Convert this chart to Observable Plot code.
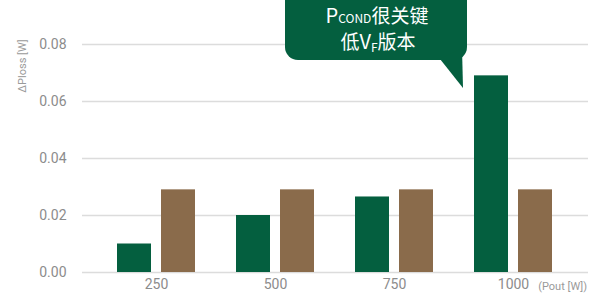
<!DOCTYPE html>
<html>
<head>
<meta charset="utf-8">
<script src="https://cdn.jsdelivr.net/npm/d3@7"></script>
<script src="https://cdn.jsdelivr.net/npm/@observablehq/plot@0.6"></script>
<style>
  html, body { margin: 0; padding: 0; background: #fff; }
  #chart svg { display: block; }
</style>
</head>
<body>
<div id="chart"></div>
<script>
// Data
const groups = ["250", "500", "750", "1000"];
const lowVfValues = [0.010, 0.020, 0.0265, 0.069];
const standardValues = [0.029, 0.029, 0.029, 0.029];
const yTicks = [0, 0.02, 0.04, 0.06, 0.08];
const yLabel = "ΔPloss [W]";
const xUnitLabel = "(Pout [W])";

const green = "#045f3f";
const brown = "#8a6b4b";
const grid = "#dcdcdc";
const tickColor = "#8c8c8c";

const data = groups.map((g, i) => ({group: g, lowVf: lowVfValues[i], standard: standardValues[i]}));

const W = 596, H = 293;
const plot = Plot.plot({
  width: W,
  height: H,
  marginLeft: 82,
  marginRight: 8,
  marginTop: 44,
  marginBottom: 21,
  style: {fontFamily: "Roboto, sans-serif", fontSize: "14px", color: tickColor, background: "#fff"},
  x: {domain: groups, paddingInner: 0.3445, paddingOuter: 0.298, align: 0.5},
  y: {domain: [0, 0.08]},
  marks: [
    Plot.ruleY(yTicks, {stroke: grid, strokeWidth: 1.5}),
    Plot.barY(data, {x: "group", y: "lowVf", fill: green, insetRight: 44}),
    Plot.barY(data, {x: "group", y: "standard", fill: brown, insetLeft: 44}),
    Plot.axisY({ticks: yTicks, tickSize: 0, tickPadding: 16, label: null, tickFormat: d3.format(".2f"), fill: tickColor}),
    Plot.axisX({tickSize: 0, tickPadding: 7, label: null, fill: tickColor})
  ]
});
document.getElementById("chart").appendChild(plot);

const svg = d3.select(plot);
const ys = plot.scale("y");

// y axis label
svg.append("text")
  .attr("transform", `translate(26, 66) rotate(-90)`)
  .attr("text-anchor", "middle")
  .attr("fill", "#9a9a9a")
  .style("font-family", "Roboto, sans-serif")
  .style("font-size", "11px")
  .text(yLabel);

// x unit label
svg.append("text")
  .attr("x", 587)
  .attr("y", ys.apply(0) + 18)
  .attr("text-anchor", "end")
  .attr("fill", "#9a9a9a")
  .style("font-family", "Roboto, sans-serif")
  .style("font-size", "11px")
  .text(xUnitLabel);

// callout annotation
const g = svg.append("g");
const bx0 = 285, bx1 = 467, by0 = -15, by1 = 60, r = 13;
g.append("rect")
  .attr("x", bx0).attr("y", by0)
  .attr("width", bx1 - bx0).attr("height", by1 - by0)
  .attr("rx", r).attr("fill", green);
g.append("path")
  .attr("d", `M440,${by1 - 1} L463,88 L462,${by1 - 12} Z`)
  .attr("fill", green);

const cjk = "'Noto Sans CJK SC', 'Noto Sans', sans-serif";
const t1 = g.append("text").attr("x", 377).attr("y", 23).attr("text-anchor", "middle")
  .attr("fill", "#fff").style("font-family", cjk);
t1.append("tspan").style("font-size", "20px").text("P");
t1.append("tspan").style("font-size", "12px").text("COND");
t1.append("tspan").style("font-size", "19px").text("很关键");

const t2 = g.append("text").attr("x", 378).attr("y", 49).attr("text-anchor", "middle")
  .attr("fill", "#fff").style("font-family", cjk);
t2.append("tspan").style("font-size", "19px").text("低");
t2.append("tspan").style("font-size", "20px").text("V");
t2.append("tspan").style("font-size", "12px").attr("dy", 3).text("F");
t2.append("tspan").style("font-size", "19px").attr("dy", -3).text("版本");
</script>
</body>
</html>
